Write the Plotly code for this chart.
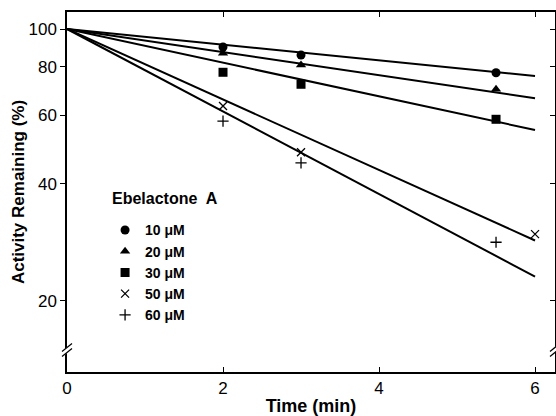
import plotly.graph_objects as go

# ---- data ----
conc_labels = ["10 \u03bcM", "20 \u03bcM", "30 \u03bcM", "50 \u03bcM", "60 \u03bcM"]
symbols = ["circle", "triangle-up", "square", "x-thin", "cross-thin"]
legend_title = "Ebelactone  A"

t_10 = [2, 3, 5.5]
v_10 = [89.9, 85.7, 77.2]
t_20 = [2, 3, 5.5]
v_20 = [86.6, 80.8, 70.0]
t_30 = [2, 3, 5.5]
v_30 = [77.4, 72.1, 58.6]
t_50 = [2, 3, 6]
v_50 = [63.4, 48.2, 29.7]
t_60 = [2, 3, 5.5]
v_60 = [58.0, 45.3, 28.3]

fit_t = [0, 6]
fit_start = 100
fit_end = [75.7, 66.4, 55.0, 28.6, 23.1]

x_ticks = [0, 2, 4, 6]
y_ticks = [20, 40, 60, 80, 100]

times = [t_10, t_20, t_30, t_50, t_60]
values = [v_10, v_20, v_30, v_50, v_60]

FONT = "Liberation Sans, Arial, Helvetica, sans-serif"

fig = go.Figure()

for end in fit_end:
    fig.add_trace(go.Scatter(
        x=fit_t, y=[fit_start, end], mode="lines",
        line=dict(color="black", width=2), showlegend=False, hoverinfo="skip"))

for lab, sym, tt, vv in zip(conc_labels, symbols, times, values):
    thin = sym.endswith("thin")
    fig.add_trace(go.Scatter(
        x=tt, y=vv, mode="markers", name=lab,
        marker=dict(symbol=sym, color="black", size=8 if thin else 9,
                    line=dict(color="black", width=1.3 if thin else 0))))

# invisible trace on right y axis to make it render
fig.add_trace(go.Scatter(x=[0], y=[100], yaxis="y2", mode="markers",
                         marker=dict(opacity=0), showlegend=False, hoverinfo="skip"))

yr = [1.1183, 2.0437]

fig.update_layout(
    width=556, height=416,
    margin=dict(l=67, r=1, t=12, b=44, autoexpand=False),
    paper_bgcolor="white", plot_bgcolor="white",
    font=dict(family=FONT, color="black", size=17),
    showlegend=True,
    legend=dict(
        x=0.078, y=0.4377, xanchor="left", yanchor="top",
        bgcolor="rgba(0,0,0,0)",
        font=dict(size=14, weight="bold", family=FONT),
        itemwidth=30, tracegroupgap=0,
    ),
    xaxis=dict(
        range=[0, 6.256], tickvals=x_ticks, ticks="inside", ticklen=5,
        tickwidth=1.3, tickcolor="black",
        showline=True, linecolor="black", linewidth=1.5, mirror="ticks",
        showgrid=False, zeroline=False, automargin=False,
        tickfont=dict(size=17),
        title=dict(text="Time (min)", font=dict(size=18, weight="bold"), standoff=2),
    ),
    yaxis=dict(
        type="log", range=yr, tickvals=y_ticks, ticktext=[str(v) for v in y_ticks],
        ticks="outside", ticklen=5, tickwidth=1.3, tickcolor="black",
        showline=True, linecolor="black", linewidth=1.5, mirror=False,
        showgrid=False, zeroline=False, automargin=False,
        tickfont=dict(size=17),
        title=dict(text="Activity Remaining (%)", font=dict(size=17, weight="bold"), standoff=0),
    ),
    yaxis2=dict(
        type="log", range=yr, tickvals=y_ticks, overlaying="y", side="right",
        ticks="inside", ticklen=5, tickwidth=1.3, tickcolor="black",
        showticklabels=False, showline=True, linecolor="black", linewidth=1.5,
        showgrid=False, zeroline=False, automargin=False,
    ),
)

fig.add_annotation(text=legend_title, xref="paper", yref="paper",
                   x=(110 - 67) / 488.0, y=(372 - 199) / 360.0,
                   xanchor="left", yanchor="middle", showarrow=False,
                   font=dict(size=16, weight="bold", family=FONT))

# axis break marks on left and right axes
brk_y = (372 - 350) / 360.0
for xa in [0, 1]:
    fig.add_shape(type="line", xref="paper", yref="paper",
                  xsizemode="pixel", ysizemode="pixel", xanchor=xa, yanchor=brk_y,
                  x0=-3, x1=3, y0=-3, y1=3, line=dict(color="white", width=4), layer="above")
    for dy in [-2.5, 2.5]:
        fig.add_shape(type="line", xref="paper", yref="paper",
                      xsizemode="pixel", ysizemode="pixel", xanchor=xa, yanchor=brk_y,
                      x0=-5, x1=5, y0=dy - 4, y1=dy + 4,
                      line=dict(color="black", width=1.3), layer="above")

fig.write_html("out.html", post_script="document.body.style.margin='0px';",
               config={"displayModeBar": False})
